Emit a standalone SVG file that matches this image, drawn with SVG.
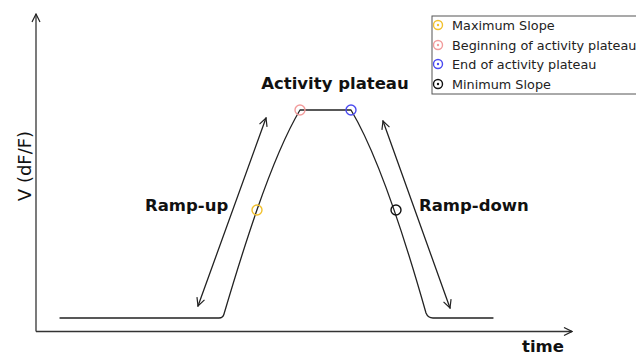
<svg xmlns="http://www.w3.org/2000/svg" width="636" height="355" viewBox="0 0 636 355">
  <style>
    .ln { fill: none; stroke: #222; stroke-width: 1.3; stroke-linecap: round; stroke-linejoin: round; }
    .ax { fill: none; stroke: #333; stroke-width: 1.3; }
    .lbl { font-family: "DejaVu Sans", sans-serif; font-weight: bold; font-size: 16.5px; fill: #111; }
    .leg { font-family: "DejaVu Sans", sans-serif; font-size: 12.8px; fill: #222; }
    .mk { fill: none; stroke-width: 1.4; }
  </style>
  <defs>
    <marker id="chev" viewBox="0 0 10 10" refX="9" refY="5" markerWidth="10" markerHeight="10" markerUnits="userSpaceOnUse" orient="auto-start-reverse">
      <path d="M1,1 L9,5 L1,9" fill="none" stroke="#222" stroke-width="1.2"/>
    </marker>
  </defs>
  <rect width="636" height="355" fill="#fff"/>
  <g id="axes">
    <path class="ax" d="M36 331.5 L36 14" marker-end="url(#chev)"/>
    <path class="ax" d="M36 331.5 L572 331.5" marker-end="url(#chev)"/>
    <text x="31" y="166" transform="rotate(-90 31 166)" text-anchor="middle" style="font-family:'DejaVu Sans',sans-serif;font-size:18px;fill:#111">V (dF/F)</text>
    <text class="lbl" x="543" y="351.5" text-anchor="middle">time</text>
  </g>
  <g id="curve">
    <path class="ln" d="M60 318 L219 318 Q223 318 224 314 C240 260 270 160 300 110 L351 110 C381 160 411 260 426 313 Q428 318 433 318 L493 318"/>
  </g>
  <g id="connectors">
    <path class="ln" d="M198 306 L266 118" marker-start="url(#chev)" marker-end="url(#chev)"/>
    <path class="ln" d="M383 121 L450 308" marker-start="url(#chev)" marker-end="url(#chev)"/>
  </g>
  <g id="points">
    <circle class="mk" cx="257" cy="210" r="5" stroke="#f2c12e"/>
    <circle class="mk" cx="300" cy="110" r="5" stroke="#f29c9c"/>
    <circle class="mk" cx="351" cy="110" r="5" stroke="#4b4bf0"/>
    <circle class="mk" cx="396" cy="210" r="5" stroke="#111"/>
  </g>
  <g id="labels">
    <text class="lbl" x="335" y="89" text-anchor="middle">Activity plateau</text>
    <text class="lbl" x="145" y="211">Ramp-up</text>
    <text class="lbl" x="419" y="211">Ramp-down</text>
  </g>
  <g id="legend">
    <rect x="432" y="16" width="220" height="78" fill="#fff" stroke="#555" stroke-width="1"/>
    <circle class="mk" cx="438" cy="25" r="4.5" stroke="#f2c12e"/><circle cx="438" cy="25" r="1.2" fill="#f2c12e"/>
    <circle class="mk" cx="438" cy="45" r="4.5" stroke="#f29c9c"/><circle cx="438" cy="45" r="1.2" fill="#f29c9c"/>
    <circle class="mk" cx="438" cy="64" r="4.5" stroke="#4b4bf0"/><circle cx="438" cy="64" r="1.2" fill="#4b4bf0"/>
    <circle class="mk" cx="438" cy="84" r="4.5" stroke="#111"/><circle cx="438" cy="84" r="1.2" fill="#111"/>
    <text class="leg" x="452" y="29.5">Maximum Slope</text>
    <text class="leg" x="452" y="49.5">Beginning of activity plateau</text>
    <text class="leg" x="452" y="68.5">End of activity plateau</text>
    <text class="leg" x="452" y="88.5">Minimum Slope</text>
  </g>
</svg>
